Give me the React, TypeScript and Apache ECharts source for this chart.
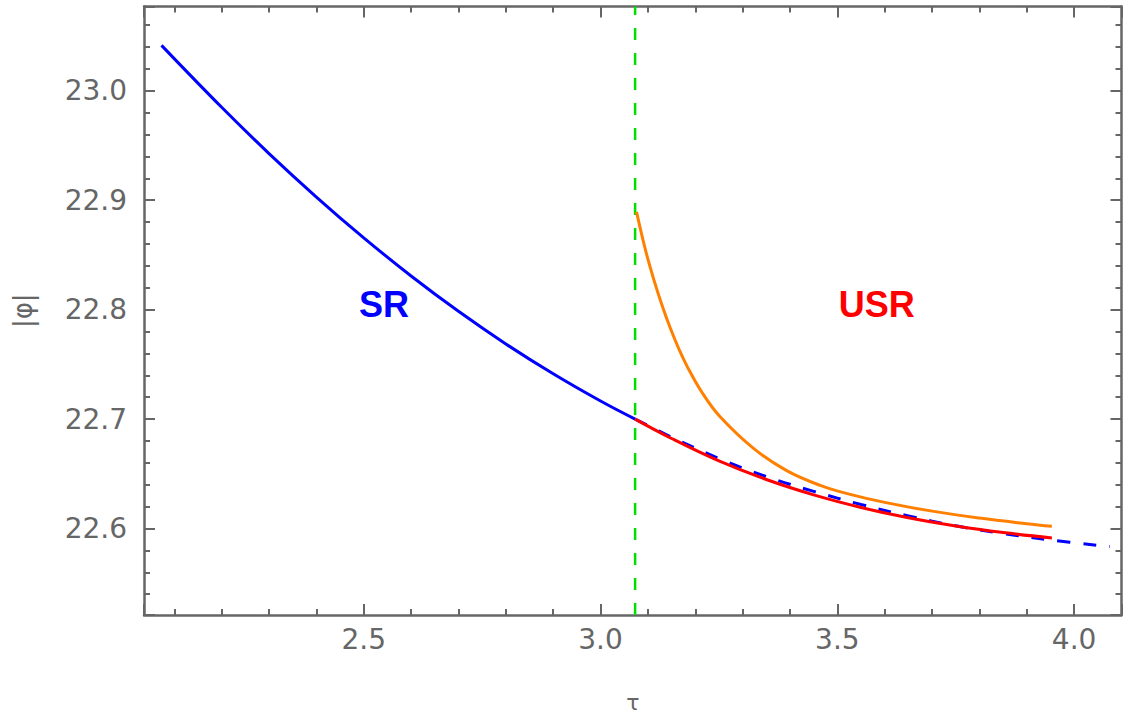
import React, { useEffect, useRef } from "react";
import * as echarts from "echarts";

// ---- data ----
const X_MIN = 2.036;
const X_MAX = 4.1;
const Y_MIN = 22.521;
const Y_MAX = 23.077;

const tauSR = [2.073, 2.2, 2.3, 2.4, 2.5, 2.6, 2.7, 2.8, 2.9, 3.0, 3.073];
const phiSR = [23.0415, 22.9849, 22.9426, 22.9029, 22.8656, 22.8308, 22.7985, 22.7687, 22.7414, 22.7165, 22.7];

const tauSRext = [3.073, 3.15, 3.25, 3.35, 3.45, 3.55, 3.65, 3.75, 3.85, 3.95, 4.075];
const phiSRext = [22.7, 22.6835, 22.664, 22.6475, 22.634, 22.622, 22.6115, 22.6025, 22.5955, 22.5895, 22.5835];

const tauUSRred = [3.073, 3.15, 3.25, 3.35, 3.45, 3.55, 3.65, 3.75, 3.85, 3.953];
const phiUSRred = [22.7, 22.6823, 22.6618, 22.6448, 22.6308, 22.6193, 22.6098, 22.6023, 22.5963, 22.5914];

const tauUSRorange = [3.076, 3.094, 3.112, 3.13, 3.147, 3.165, 3.182, 3.215, 3.252, 3.323, 3.393, 3.464, 3.527, 3.6, 3.7, 3.8, 3.9, 3.953];
const phiUSRorange = [22.8893, 22.856, 22.8281, 22.8038, 22.7834, 22.7645, 22.7489, 22.7238, 22.7023, 22.6732, 22.6529, 22.6394, 22.6312, 22.6239, 22.6159, 22.6096, 22.6044, 22.602];

const tauCritical = 3.073;

const annotationTexts = ["SR", "USR"];
const annotationTau = [2.543, 3.583];
const annotationPhi = [22.805, 22.805];
const annotationColors = ["#0000ff", "#ff0000"];

const zip = (xs: number[], ys: number[]) => xs.map((x, i) => [x, ys[i]]);

const GRAY = "#666666";

export default function App() {
  const ref = useRef<HTMLDivElement>(null);

  useEffect(() => {
    if (!ref.current) return;
    const chart = echarts.init(ref.current, null, { renderer: "svg" });

    const axisLine = { show: true, onZero: false, lineStyle: { color: GRAY, width: 2.5 } };
    const axisTick = { show: true, inside: true, length: 11, lineStyle: { color: GRAY, width: 2 } };
    const minorTick = { show: true, splitNumber: 5, length: 6, lineStyle: { color: GRAY, width: 2 } };

    const xBase = {
      type: "value",
      min: X_MIN,
      max: X_MAX,
      splitNumber: 5,
      axisLine,
      axisTick,
      minorTick,
      splitLine: { show: false },
      minorSplitLine: { show: false },
    };
    const yBase = {
      type: "value",
      min: Y_MIN,
      max: Y_MAX,
      splitNumber: 5,
      axisLine,
      axisTick,
      minorTick,
      splitLine: { show: false },
      minorSplitLine: { show: false },
    };

    const curve = { type: "line", symbol: "none", smooth: 0.4 };

    chart.setOption({
      animation: false,
      backgroundColor: "#ffffff",
      grid: {
        left: 144,
        right: 2.5,
        top: 6.5,
        bottom: 100,
        containLabel: false,
        outerBoundsMode: "none",
      },
      xAxis: [
        {
          ...xBase,
          position: "bottom",
          name: "τ",
          nameLocation: "middle",
          nameGap: 76,
          nameTextStyle: { color: GRAY, fontSize: 22, fontFamily: "DejaVu Sans" },
          axisLabel: {
            show: true,
            color: GRAY,
            fontSize: 28,
            fontFamily: "DejaVu Sans",
            margin: 10,
            showMinLabel: false,
            showMaxLabel: false,
            formatter: (v: number) => v.toFixed(1),
          },
        },
        { ...xBase, position: "top", axisLabel: { show: false } },
      ],
      yAxis: [
        {
          ...yBase,
          position: "left",
          name: "|φ|",
          nameLocation: "middle",
          nameGap: 108,
          nameRotate: 90,
          nameTextStyle: { color: GRAY, fontSize: 26, fontFamily: "DejaVu Sans" },
          axisLabel: {
            show: true,
            color: GRAY,
            fontSize: 28,
            fontFamily: "DejaVu Sans",
            margin: 17,
            showMinLabel: false,
            showMaxLabel: false,
            formatter: (v: number) => v.toFixed(1),
          },
        },
        { ...yBase, position: "right", axisLabel: { show: false } },
      ],
      series: [
        {
          name: "critical",
          type: "line",
          data: [
            [tauCritical, Y_MIN],
            [tauCritical, Y_MAX],
          ],
          symbol: "none",
          lineStyle: { color: "#00e000", width: 2.5, type: [12, 13] },
          silent: true,
          z: 1,
        },
        {
          ...curve,
          name: "SR",
          data: zip(tauSR, phiSR),
          lineStyle: { color: "#0000ff", width: 3 },
          z: 2,
        },
        {
          ...curve,
          name: "SR extension",
          data: zip(tauSRext, phiSRext),
          lineStyle: { color: "#0000ff", width: 3, type: [13, 13] },
          z: 3,
        },
        {
          ...curve,
          name: "USR red",
          data: zip(tauUSRred, phiUSRred),
          lineStyle: { color: "#ff0000", width: 3 },
          z: 4,
        },
        {
          ...curve,
          name: "USR orange",
          data: zip(tauUSRorange, phiUSRorange),
          lineStyle: { color: "#ff8000", width: 3 },
          z: 5,
        },
        {
          name: "annotations",
          type: "scatter",
          symbolSize: 1,
          itemStyle: { color: "rgba(255,255,255,0)" },
          silent: true,
          z: 6,
          data: annotationTexts.map((t, i) => ({
            value: [annotationTau[i], annotationPhi[i]],
            label: {
              show: true,
              position: "inside",
              formatter: t,
              color: annotationColors[i],
              opacity: 1,
              textBorderWidth: 0,
              fontSize: 36,
              fontWeight: "bold",
              fontFamily: "Liberation Sans",
            },
          })),
        },
      ],
    });

    return () => chart.dispose();
  }, []);

  return (
    <div
      ref={ref}
      style={{ position: "fixed", left: 0, top: 0, width: 1124, height: 715, background: "#fff" }}
    />
  );
}
